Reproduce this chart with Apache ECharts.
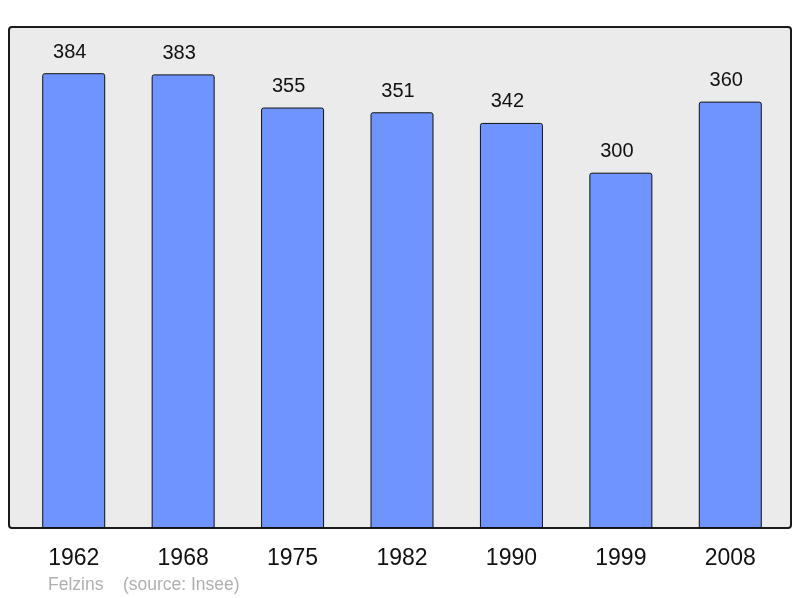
<!DOCTYPE html>
<html>
<head>
<meta charset="utf-8">
<script src="https://cdn.jsdelivr.net/npm/echarts@6/dist/echarts.min.js"></script>
<style>
  html, body { margin: 0; padding: 0; background: #fff; }
  #chart { width: 800px; height: 598px; }
</style>
</head>
<body>
<div id="chart"></div>
<script>
const years = ['1962', '1968', '1975', '1982', '1990', '1999', '2008'];
const population = [384, 383, 355, 351, 342, 300, 360];

const chart = echarts.init(document.getElementById('chart'));
chart.setOption({
  animation: false,
  backgroundColor: '#fff',
  textStyle: { fontFamily: 'Liberation Sans, Arial, sans-serif' },
  graphic: [
    {
      type: 'rect',
      z: -10,
      shape: { x: 9, y: 27, width: 782, height: 501, r: 3 },
      style: { fill: '#ebebeb', stroke: '#1a1a1a', lineWidth: 2 }
    },
    {
      type: 'text',
      left: 48,
      top: 576,
      style: {
        text: 'Felzins    (source: Insee)',
        fill: '#b0b0b0',
        font: '17.5px Liberation Sans, Arial, sans-serif'
      }
    }
  ],
  grid: { left: 19, right: 15, top: 27, bottom: 70 },
  xAxis: {
    type: 'category',
    data: years,
    axisLine: { show: false },
    axisTick: { show: false },
    axisLabel: { color: '#111', fontSize: 23, margin: 19 }
  },
  yAxis: {
    type: 'value',
    min: 0,
    max: 423,
    show: false,
    splitLine: { show: false }
  },
  series: [
    {
      type: 'bar',
      data: population,
      barWidth: 63,
      itemStyle: {
        color: '#7094ff',
        borderColor: '#111',
        borderWidth: 1,
        borderRadius: [2, 2, 0, 0]
      },
      label: {
        show: true,
        position: 'top',
        distance: 11,
        offset: [-4, 0],
        color: '#111',
        fontSize: 20
      }
    }
  ]
});
</script>
</body>
</html>
